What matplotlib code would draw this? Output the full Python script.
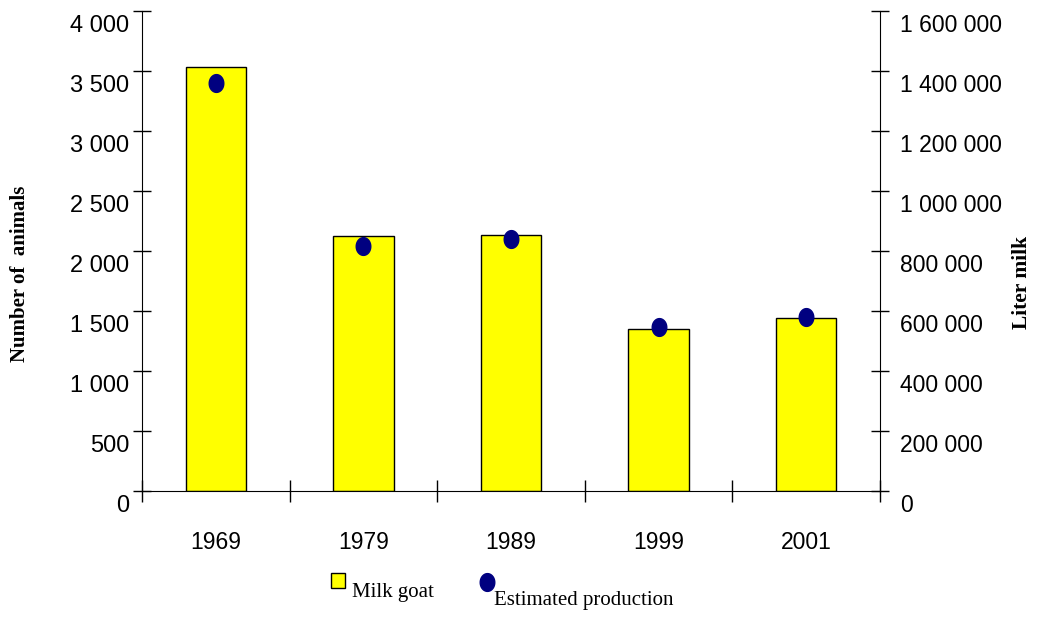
import matplotlib
matplotlib.use("Agg")
import matplotlib.pyplot as plt
import numpy as np
from matplotlib.transforms import ScaledTranslation
from matplotlib.patches import Rectangle
from matplotlib.lines import Line2D
from matplotlib.path import Path

years = ["1969", "1979", "1989", "1999", "2001"]
milk_goats = [3530, 2125, 2133, 1352, 1439]
liter_milk = [1360000, 817000, 841000, 548000, 581000]
left_ticks = [0, 500, 1000, 1500, 2000, 2500, 3000, 3500, 4000]
left_labels = ["0", "500", "1 000", "1 500", "2 000", "2 500", "3 000", "3 500", "4 000"]
right_ticks = [0, 200000, 400000, 600000, 800000, 1000000, 1200000, 1400000, 1600000]
right_labels = ["0", "200 000", "400 000", "600 000", "800 000", "1 000 000",
                "1 200 000", "1 400 000", "1 600 000"]

sans = "Liberation Sans"
serif = "Liberation Serif"

fig = plt.figure(figsize=(10.4, 6.19), dpi=100)
ax = fig.add_axes([142/1040, 128/619, (880-142)/1040, (491-11)/619])
x = np.arange(len(years))
ax.bar(x, milk_goats, width=0.41, color="#FFFF00", edgecolor="black", linewidth=1, zorder=2)
ax.set_xlim(-0.5, len(years) - 0.5)
ax.set_ylim(0, 4000)
ax.spines["top"].set_visible(False)
ax.spines["right"].set_visible(False)
ax.set_yticks(left_ticks)
ax.set_yticklabels(left_labels, fontfamily=sans, fontsize=17)
ax.tick_params(axis="y", direction="inout", length=13, width=1, pad=2.5)
ax.set_xticks(np.arange(-0.5, len(years), 1.0))
ax.set_xticklabels([])
ax.tick_params(axis="x", which="major", direction="inout", length=16, width=1)
ax.set_xticks(x, minor=True)
ax.set_xticklabels(years, minor=True, fontfamily=sans, fontsize=16.5)
ax.tick_params(axis="x", which="minor", length=0, pad=29)

ax2 = ax.twinx()
ax2.set_ylim(0, 1600000)
ax2.spines["top"].set_visible(False)
ax2.spines["left"].set_visible(False)
ax2.spines["bottom"].set_visible(False)
ax2.set_yticks(right_ticks)
ax2.set_yticklabels(right_labels, fontfamily=sans, fontsize=16.5)
ax2.tick_params(axis="y", direction="inout", length=13, width=1, pad=8)

theta = np.linspace(0, 2*np.pi, 60)
ell = Path(np.column_stack([0.82*np.cos(theta), np.sin(theta)]), closed=True)
ax2.plot(x, liter_milk, linestyle="none", marker=ell, markersize=12.8,
         color="#000080", zorder=3)

off = ScaledTranslation(0, -12/100, fig.dpi_scale_trans)
for lab in ax.get_yticklabels() + ax2.get_yticklabels():
    lab.set_transform(lab.get_transform() + off)

fig.text(20/1040, 1 - 274/619, "Number of  animals", rotation=90, ha="center", va="center",
         fontfamily=serif, fontweight="bold", fontsize=15)
fig.text(1022/1040, 1 - 282/619, "Liter milk", rotation=90, ha="center", va="center",
         fontfamily=serif, fontweight="bold", fontsize=15.5)

# legend
fig.add_artist(Rectangle((331/1040, 1 - 588/619), 14/1040, 15/619, transform=fig.transFigure,
                         facecolor="#FFFF00", edgecolor="black", linewidth=1))
fig.text(352/1040, 1 - 592/619, "Milk goat", fontfamily=serif, fontsize=15, va="center", ha="left")
fig.add_artist(Line2D([487/1040], [1 - 582/619], transform=fig.transFigure, marker=ell,
                      markersize=12.8, color="#000080", linestyle="none"))
fig.text(494/1040, 1 - 600/619, "Estimated production", fontfamily=serif, fontsize=15,
         va="center", ha="left")

fig.savefig("out.png", dpi=100)
